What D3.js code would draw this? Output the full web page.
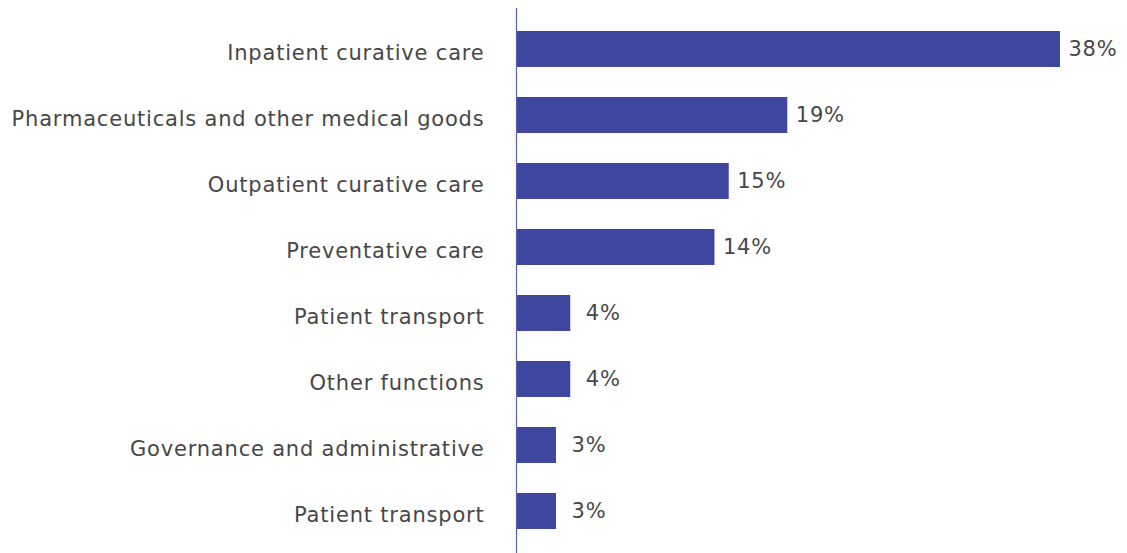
<!DOCTYPE html>
<html>
<head>
<meta charset="utf-8">
<script src="https://cdn.jsdelivr.net/npm/d3@7"></script>
<style>
  body { margin: 0; background: #fff; }
  text { font-family: "DejaVu Sans", sans-serif; fill: #474747; letter-spacing: 0.8px; }
</style>
</head>
<body>
<div id="chart"></div>
<script>
// categories, top to bottom
let categories = [
    "Inpatient curative care",
    "Pharmaceuticals and other medical goods",
    "Outpatient curative care",
    "Preventative care",
    "Patient transport",
    "Other functions",
    "Governance and administrative",
    "Patient transport"
];
// share of spending (%)
let shares = [38.1, 19.0, 14.9, 13.9, 3.8, 3.8, 2.8, 2.8];

let width = 1127, height = 553;

let svg = d3.select("#chart").append("svg")
    .attr("width", width)
    .attr("height", height);

let rows = categories.map((c, i) => ({key: i, name: c, value: shares[i]}));

let xScale = d3.scaleLinear().domain([0, 38.1]).range([0, 544]);
let yScale = d3.scaleBand()
    .domain(rows.map(d => d.key))
    .range([17.8, 542.2])
    .paddingInner(0.4545)
    .paddingOuter(0.2);

let g = svg.append("g").attr("transform", "translate(516,0)");

// bars
g.selectAll(".bar")
    .data(rows)
    .enter().append("rect")
    .attr("class", "bar")
    .attr("x", 0)
    .attr("y", d => yScale(d.key))
    .attr("width", d => xScale(d.value))
    .attr("height", yScale.bandwidth())
    .style("fill", "#3f469e");

// axis line
g.append("line")
    .attr("x1", 0.5).attr("x2", 0.5)
    .attr("y1", 8).attr("y2", height)
    .style("stroke", "#5a5fae")
    .style("stroke-width", 1.2);

// category labels
g.selectAll(".cat")
    .data(rows)
    .enter().append("text")
    .attr("class", "cat")
    .attr("x", -31.5)
    .attr("y", d => yScale(d.key) + yScale.bandwidth() / 2 + 5)
    .attr("text-anchor", "end")
    .attr("dominant-baseline", "middle")
    .style("font-size", "21px")
    .text(d => d.name);

// value labels
g.selectAll(".val")
    .data(rows)
    .enter().append("text")
    .attr("class", "val")
    .attr("x", d => xScale(d.value) + 33)
    .attr("y", d => yScale(d.key) + yScale.bandwidth() / 2 + 1)
    .attr("text-anchor", "middle")
    .attr("dominant-baseline", "middle")
    .style("font-size", "21px")
    .text(d => Math.round(d.value) + "%");
</script>
</body>
</html>
